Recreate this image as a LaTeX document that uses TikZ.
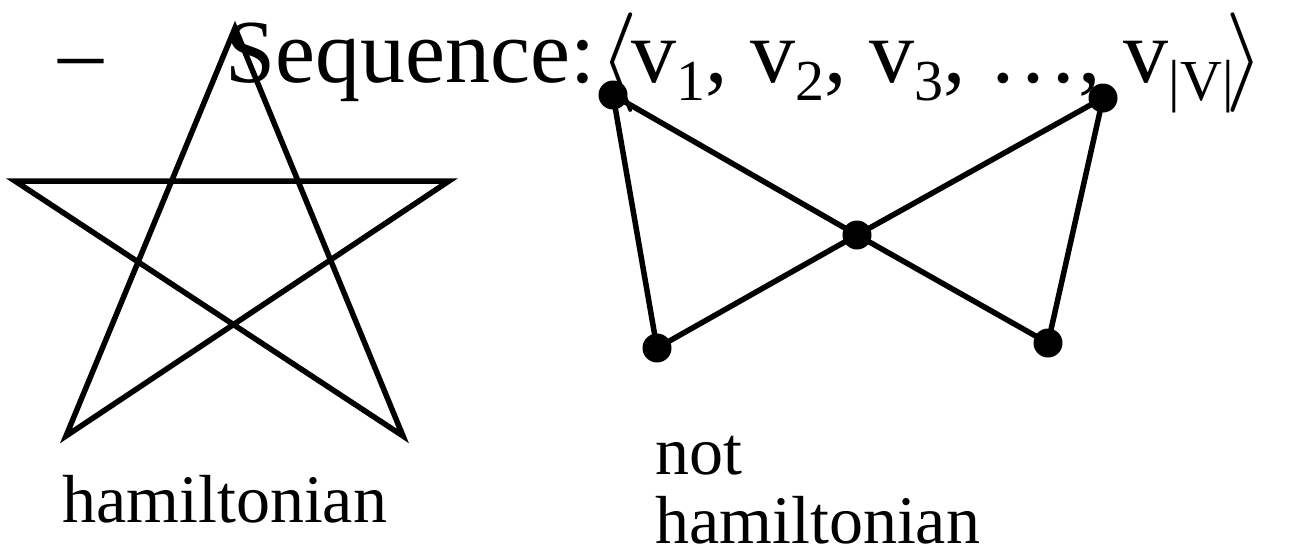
\documentclass[tikz,border=0pt]{standalone}
\usepackage{fontspec}
\usepackage{graphicx}
\setmainfont{Liberation Serif}
\newcommand{\mysubtxt}[1]{\raisebox{-0.21em}{\fontsize{58}{58}\selectfont #1}}
\newcommand{\bigangle}[1]{\raisebox{-5pt}{\scalebox{4.0}{$#1$}}}
\begin{document}
\begin{tikzpicture}[x=1pt,y=-1pt,
  edge/.style={line width=5.5pt,line join=miter},
  dot/.style={circle,fill=black,inner sep=0pt,minimum size=29pt},
  big/.style={inner sep=0pt,anchor=base west,font=\fontsize{90}{90}\selectfont},
  lbl/.style={inner sep=0pt,anchor=base west,font=\fontsize{68}{69}\selectfont,align=left}]
\useasboundingbox (0,0) rectangle (1293,549);
% star
\coordinate (s1) at (235,28);
\coordinate (s2) at (403,436);
\coordinate (s3) at (15,181);
\coordinate (s4) at (449,181);
\coordinate (s5) at (66,436);
\draw[edge] (s1) -- (s2) -- (s3) -- (s4) -- (s5) -- cycle;
% title text
\node[big] (dash) at (58,82) {–};
\node[big] (seq) at (225,82) {Sequence:\hspace{4pt}\bigangle{\langle}\hspace{-6pt}v\mysubtxt{1}, v\mysubtxt{2}, v\mysubtxt{3}, \ldots, v\mysubtxt{|V|}\hspace{-8pt}\bigangle{\rangle}};
% bowtie
\node[dot] (tl) at (613,95) {};
\node[dot] (tr) at (1103,98) {};
\node[dot] (c) at (857,235) {};
\node[dot] (bl) at (657,348) {};
\node[dot] (br) at (1048,343) {};
\draw[edge] (tl.center) -- (bl.center);
\draw[edge] (tl.center) -- (c.center) -- (br.center);
\draw[edge] (tr.center) -- (c.center) -- (bl.center);
\draw[edge] (tr.center) -- (br.center);
% labels
\node[lbl] (ham) at (62,522) {hamiltonian};
\node[lbl] (notham) at (655,543) {not\\hamiltonian};
\end{tikzpicture}
\end{document}
